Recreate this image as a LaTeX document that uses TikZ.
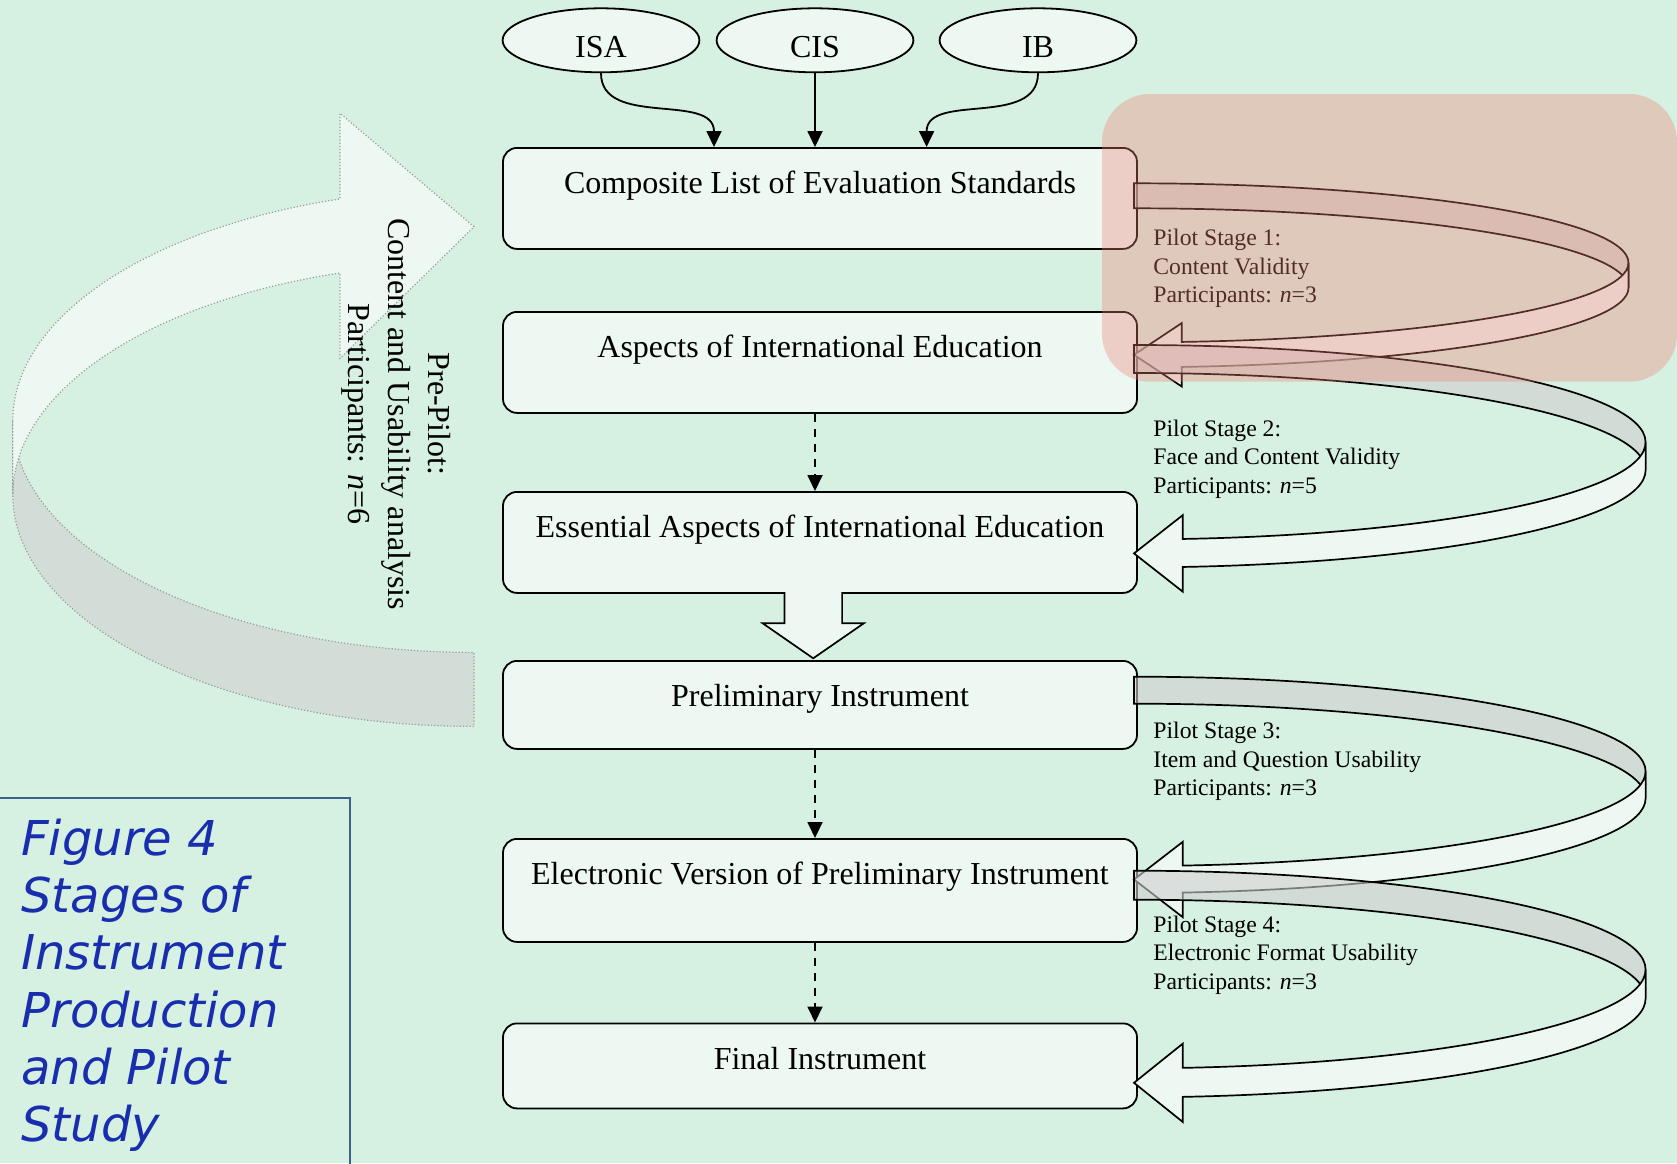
\documentclass[tikz,border=0pt]{standalone}
\usepackage{fontspec}
\setmainfont{Liberation Serif}
\newfontfamily\capfont{DejaVu Sans}
\usetikzlibrary{arrows.meta,shapes.geometric}
\definecolor{bgmint}{RGB}{214,241,226}
\definecolor{boxfill}{RGB}{238,248,243}
\definecolor{bandgrey}{RGB}{211,221,216}
\definecolor{bandgreyT}{RGB}{205,206,205}
\definecolor{pinkov}{RGB}{237,129,117}
\definecolor{captxt}{RGB}{25,45,175}
\definecolor{capline}{RGB}{60,95,140}
\definecolor{dotgrey}{RGB}{155,155,155}

% x0, c, b, w, xR, head-back x, head half height
\newcommand\PilotArrow[7]{%
  \pgfmathsetmacro\pilA{#5-#1}%
  \pgfmathsetmacro\pilRX{(#5-#1)/2}%
  \pgfmathsetmacro\pilRY{#3/2}%
  \pgfmathsetmacro\pilPhi{acos((#6-#1)/\pilA)}%
  \pgfmathsetmacro\pilTip{#2+#3+#4/2}%
  \pgfmathsetmacro\pilYb{#2+#4+#3*sin(\pilPhi)}%
  \draw[backband] (#1,{#2-#3}) arc[start angle=90,end angle=0,x radius=\pilRX pt,y radius=\pilRY pt]
     -- (#5,{#2+#4}) arc[start angle=0,end angle=90,x radius=\pilRX pt,y radius=\pilRY pt] -- cycle;
  \draw[frontband] (#5,#2) arc[start angle=0,end angle=-\pilPhi,x radius=\pilRX pt,y radius=\pilRY pt]
     -- (#6,{\pilTip-#7}) -- (#1,\pilTip) -- (#6,{\pilTip+#7}) -- (#6,\pilYb)
     arc[start angle=-\pilPhi,end angle=0,x radius=\pilRX pt,y radius=\pilRY pt] -- cycle;
}

\begin{document}
\begin{tikzpicture}[x=0.5pt,y=-0.5pt,
  stagebox/.style={draw, line width=0.9pt, fill=boxfill, rounded corners=7pt,
    minimum width=317pt, inner xsep=0pt, inner ysep=0pt, text height=23pt,
    anchor=north, font=\fontsize{16}{19}\selectfont},
  srcell/.style={ellipse, draw, line width=0.9pt, fill=boxfill, minimum width=98.4pt,
    minimum height=32pt, inner sep=0pt, text height=17.6pt, text depth=0pt,
    font=\fontsize{16}{19}\selectfont},
  arr/.style={line width=0.9pt, -{Triangle[length=8pt,width=7.5pt]}},
  dasharr/.style={arr, dash pattern=on 4pt off 3.5pt},
  blockarr/.style={draw, line width=0.85pt, fill=boxfill, line join=miter},
  backband/.style={draw=black, line width=0.85pt, fill=bandgreyT, fill opacity=0.6},
  frontband/.style={draw=black, line width=0.85pt, fill=boxfill},
  bigback/.style={draw=dotgrey, densely dotted, line width=0.6pt, fill=bandgrey},
  bigfront/.style={draw=dotgrey, densely dotted, line width=0.6pt, fill=boxfill},
  pilotlbl/.style={anchor=north west, inner sep=0pt, align=left, text=black,
    font=\fontsize{11.85}{14.2}\selectfont}
]
\useasboundingbox (0,0) rectangle (1677,1163);
\fill[bgmint] (0,0) rectangle (1677,1163);

% ---- big pre-pilot curved arrow ----
\pgfmathsetmacro\bigPhi{acos((474-340)/461.2)}
\draw[bigback] (12.8,420.7) arc[start angle=180,end angle=270,x radius=230.6pt,y radius=115.85pt]
   -- (474,726.4) arc[start angle=270,end angle=180,x radius=230.6pt,y radius=115.85pt] -- cycle;
\draw[bigfront] (12.8,420.7) arc[start angle=180,end angle=180-\bigPhi,x radius=230.6pt,y radius=115.85pt]
   -- (340,113.3) -- (474,226.7) -- (340,358.3) -- (340,273)
   arc[start angle=180-\bigPhi,end angle=180,x radius=230.6pt,y radius=115.85pt] -- cycle;
\node[rotate=-90, align=center, inner sep=0pt, font=\fontsize{16}{19.85}\selectfont] (pre) at (396,414)
  {Pre-Pilot:\\Content and Usability analysis\\Participants: \textit{n}=6};

% ---- caption ----
\draw[capline, line width=1pt] (-10,798.3) -- (350,798.3) -- (350,1180);
\node[anchor=north west, inner sep=0pt, align=left, text=captxt,
  font=\capfont\itshape\fontsize{24}{28.65}\selectfont] (cap) at (21,818.5)
  {Figure 4\\Stages of\\Instrument\\Production\\and Pilot\\Study};

% ---- sources ----
\node[srcell] (isa) at (601,40.3) {ISA};
\node[srcell] (cis) at (815,40.3) {CIS};
\node[srcell] (ib) at (1038,40.3) {IB};

% ---- stage boxes ----
\node[stagebox, text depth=27.5pt] (b1) at (820,147) {Composite List of Evaluation Standards};
\node[stagebox, text depth=27.5pt] (b2) at (820,311) {Aspects of International Education};
\node[stagebox, text depth=27.5pt] (b3) at (820,491) {Essential Aspects of International Education};
\node[stagebox, text depth=21pt] (b4) at (820,660) {Preliminary Instrument};
\node[stagebox, text depth=28.5pt] (b5) at (820,838) {Electronic Version of Preliminary Instrument};
\node[stagebox, text depth=19.5pt] (b6) at (820,1022.5) {Final Instrument};

% ---- connectors ----
\draw[arr] (isa.south) .. controls +(0,55) and +(0,-55) .. ([xshift=-53pt]b1.north);
\draw[arr] (cis.south) -- ([xshift=-2.5pt]b1.north);
\draw[arr] (ib.south) .. controls +(0,55) and +(0,-55) .. ([xshift=53.3pt]b1.north);
\draw[dasharr] ([xshift=-2.5pt]b2.south) -- ([xshift=-2.5pt]b3.north);
\draw[dasharr] ([xshift=-2.5pt]b4.south) -- ([xshift=-2.5pt]b5.north);
\draw[dasharr] ([xshift=-2.5pt]b5.south) -- ([xshift=-2.5pt]b6.north);
\draw[blockarr] (784.4,592) -- (784.4,623.3) -- (762.7,623.3) -- (813.2,658.3)
   -- (863.8,623.3) -- (842.1,623.3) -- (842.1,592);

% ---- pilot stage arrows ----
\PilotArrow{1134}{262.8}{79.5}{25}{1628.5}{1181.7}{31.7}
\PilotArrow{1134}{442.2}{97.2}{28}{1645.6}{1182.8}{38.3}
\PilotArrow{1134}{771.35}{94.65}{27}{1645.6}{1182.8}{37.7}
\PilotArrow{1134}{969.5}{98.8}{29}{1645.6}{1182.8}{39.2}

\node[pilotlbl] (p1) at (1153,228.8) {Pilot Stage 1:\\Content Validity\\Participants: \textit{n}=3};
\node[pilotlbl] (p2) at (1153,419.6) {Pilot Stage 2:\\Face and Content Validity\\Participants: \textit{n}=5};
\node[pilotlbl] (p3) at (1153,722.1) {Pilot Stage 3:\\Item and Question Usability\\Participants: \textit{n}=3};
\node[pilotlbl] (p4) at (1153,915.5) {Pilot Stage 4:\\Electronic Format Usability\\Participants: \textit{n}=3};

% ---- highlight overlay ----
\fill[pinkov, fill opacity=0.35, rounded corners=24pt] (1102,94) rectangle (1677,381.7);
\end{tikzpicture}
\end{document}
